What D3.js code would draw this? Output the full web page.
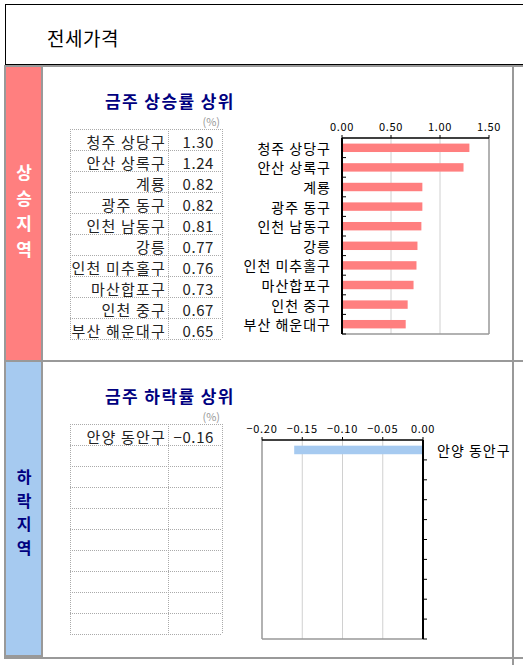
<!DOCTYPE html>
<html>

<head>
    <title>전세가격</title>
    <script src="https://d3js.org/d3.v7.min.js"></script>
    <style>
        body {
            margin: 0;
            background: #fff;
        }

        text {
            font-family: "Noto Sans CJK KR", "Noto Sans", sans-serif;
        }
    </style>
</head>

<body>
    <div id="chart"></div>
    <script>
        // values
        const upNames = ["청주 상당구", "안산 상록구", "계룡", "광주 동구", "인천 남동구",
            "강릉", "인천 미추홀구", "마산합포구", "인천 중구", "부산 해운대구"];
        const upValues = [1.30, 1.24, 0.82, 0.82, 0.81, 0.77, 0.76, 0.73, 0.67, 0.65];
        const upTicks = [0, 0.5, 1.0, 1.5];

        const downNames = ["안양 동안구"];
        const downValues = [-0.16];
        const downTicks = [-0.20, -0.15, -0.10, -0.05, 0.00];

        const rowCount = 10;
        const red = "#ff7f7f";
        const blue = "#a6caf0";
        const navy = "#000080";
        const lineGray = "#999";

        const svg = d3.select("#chart")
            .append("svg")
            .attr("width", 523)
            .attr("height", 665);

        // title box
        svg.append("rect")
            .attr("x", 5.5).attr("y", 4.5)
            .attr("width", 540).attr("height", 60)
            .attr("fill", "none").attr("stroke", "#000");
        svg.append("text")
            .attr("x", 47).attr("y", 46)
            .attr("font-size", 19).attr("letter-spacing", 0.5)
            .text("전세가격");

        const fmt = d3.format(".2f");

        function section(top, opt) {
            const g = svg.append("g");
            const h = 295;

            // sidebar
            g.append("rect")
                .attr("x", 5).attr("y", top)
                .attr("width", 37).attr("height", h)
                .attr("fill", opt.side)
                .attr("stroke", lineGray).attr("stroke-width", 2);
            opt.sideText.split("").forEach((ch, i) => {
                g.append("text")
                    .attr("x", 24).attr("y", opt.sideY + i * opt.sideStep)
                    .attr("text-anchor", "middle")
                    .attr("font-size", opt.sideSize).attr("font-weight", "bold")
                    .attr("fill", opt.sideColor)
                    .text(ch);
            });

            // heading
            g.append("text")
                .attr("x", 105).attr("y", top + 42)
                .attr("font-size", 17).attr("font-weight", "bold")
                .attr("letter-spacing", 1.4)
                .attr("fill", navy)
                .text(opt.title);
            g.append("text")
                .attr("x", 220).attr("y", top + 60)
                .attr("text-anchor", "end")
                .attr("font-size", 11).attr("fill", "#999")
                .text("(%)");

            // table
            const tTop = top + 63;
            const rowY = d3.scaleLinear().domain([0, rowCount]).range([tTop, tTop + 210]);
            const grid = g.append("g")
                .attr("stroke", "#aaa").attr("stroke-dasharray", "1,1");
            d3.range(rowCount + 1).forEach(i => {
                grid.append("line")
                    .attr("x1", 70).attr("x2", 222)
                    .attr("y1", rowY(i) + 0.5).attr("y2", rowY(i) + 0.5);
            });
            [70, 168, 222].forEach(x => {
                grid.append("line")
                    .attr("x1", x + 0.5).attr("x2", x + 0.5)
                    .attr("y1", tTop).attr("y2", tTop + 210);
            });
            opt.names.forEach((n, i) => {
                g.append("text")
                    .attr("x", 166).attr("y", rowY(i) + 19)
                    .attr("text-anchor", "end")
                    .attr("font-size", 15).attr("letter-spacing", 1.2)
                    .attr("fill", "#222")
                    .text(n);
                g.append("text")
                    .attr("x", 214).attr("y", rowY(i) + 19)
                    .attr("text-anchor", "end")
                    .attr("font-size", 15).attr("letter-spacing", 0.6)
                    .attr("fill", "#222")
                    .text(fmt(opt.values[i]).replace("-", "−"));
            });

            // bar chart
            const x = d3.scaleLinear().domain(opt.domain).range(opt.xRange);
            const y = d3.scaleBand().domain(d3.range(rowCount)).range([top + opt.yTop, top + opt.yBottom]);
            const [x0, x1] = opt.xRange;
            const [y0, y1] = y.range();

            opt.ticks.slice(1, -1).forEach(t => {
                g.append("line")
                    .attr("x1", x(t)).attr("x2", x(t))
                    .attr("y1", y0).attr("y2", y1)
                    .attr("stroke", "#d0d0d0");
            });

            // gray frame sides
            const frame = g.append("g").attr("stroke", lineGray).attr("stroke-width", 1.5);
            const farX = opt.axisRight ? x0 : x1;
            frame.append("line").attr("x1", farX).attr("x2", farX).attr("y1", y0).attr("y2", y1);
            frame.append("line").attr("x1", x0).attr("x2", x1).attr("y1", y1).attr("y2", y1);

            // bars
            const barH = y.bandwidth() * 0.43;
            g.selectAll(null)
                .data(opt.values)
                .join("rect")
                .attr("x", d => Math.min(x(0), x(d)))
                .attr("width", d => Math.abs(x(d) - x(0)))
                .attr("y", (d, i) => y(i) + (y.bandwidth() - barH) / 2)
                .attr("height", barH)
                .attr("fill", opt.bar);

            // top value axis
            g.append("line")
                .attr("x1", x0).attr("x2", x1).attr("y1", y0).attr("y2", y0)
                .attr("stroke", "#000").attr("stroke-width", 1.5);
            opt.ticks.forEach(t => {
                g.append("line")
                    .attr("x1", x(t)).attr("x2", x(t))
                    .attr("y1", y0 - 3).attr("y2", y0)
                    .attr("stroke", "#000");
                g.append("text")
                    .attr("x", x(t)).attr("y", y0 - 7)
                    .attr("text-anchor", "middle")
                    .attr("font-size", 11).attr("letter-spacing", 0.7)
                    .text(fmt(t).replace("-", "−"));
            });

            // category axis
            const ax = x(0);
            g.append("line")
                .attr("x1", ax).attr("x2", ax).attr("y1", y0).attr("y2", y1)
                .attr("stroke", "#000").attr("stroke-width", 2);
            d3.range(1, rowCount + 1).forEach(i => {
                const ty = y0 + i * y.step();
                g.append("line")
                    .attr("x1", ax).attr("x2", ax + 4)
                    .attr("y1", ty).attr("y2", ty)
                    .attr("stroke", "#000");
            });
            opt.names.forEach((n, i) => {
                g.append("text")
                    .attr("x", opt.axisRight ? ax + 14 : ax - 11)
                    .attr("y", y(i) + y.bandwidth() / 2 + 6)
                    .attr("text-anchor", opt.axisRight ? "start" : "end")
                    .attr("font-size", 14).attr("letter-spacing", 1)
                    .text(n);
            });
        }

        section(66, {
            side: red, sideText: "상승지역", sideColor: "#fff", sideY: 179, sideStep: 25.5, sideSize: 17,
            title: "금주 상승률 상위",
            names: upNames, values: upValues, ticks: upTicks,
            domain: [0, 1.5], xRange: [342, 489], yTop: 72, yBottom: 268,
            bar: red, axisRight: false
        });

        section(361, {
            side: blue, sideText: "하락지역", sideColor: navy, sideY: 483, sideStep: 23.5, sideSize: 16,
            title: "금주 하락률 상위",
            names: downNames, values: downValues, ticks: downTicks,
            domain: [-0.2, 0], xRange: [262, 423], yTop: 79, yBottom: 278,
            bar: blue, axisRight: true
        });

        // section dividers
        const div = svg.append("g").attr("stroke", lineGray).attr("stroke-width", 2);
        div.append("line").attr("x1", 4).attr("x2", 523).attr("y1", 66).attr("y2", 66);
        div.append("line").attr("x1", 42).attr("x2", 523).attr("y1", 361).attr("y2", 361);
        div.append("line").attr("x1", 4).attr("x2", 523).attr("y1", 658).attr("y2", 658);
        div.append("line").attr("x1", 513).attr("x2", 513).attr("y1", 66).attr("y2", 665);
    </script>

</body>

</html>
